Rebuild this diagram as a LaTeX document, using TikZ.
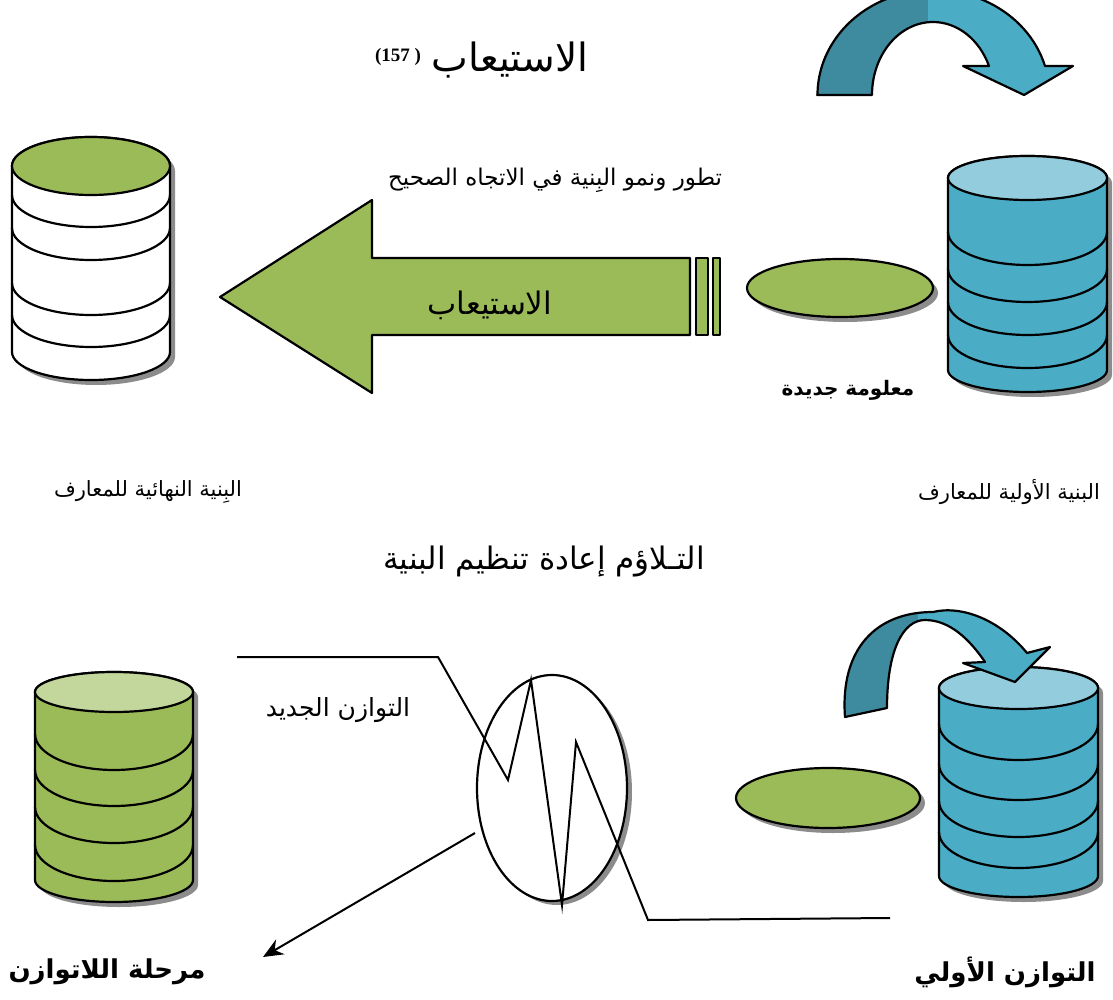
\documentclass[tikz,border=0pt]{standalone}
\usepackage{fontspec}
\setmainfont{Liberation Serif}
\newfontfamily\arabicfont[Script=Arabic]{DejaVu Sans}
\TeXXeTstate=1
\usetikzlibrary{arrows.meta}
\definecolor{cgreen}{HTML}{9BBB59}
\definecolor{clgreen}{HTML}{C3D69B}
\definecolor{cblue}{HTML}{4BACC6}
\definecolor{clblue}{HTML}{93CDDD}
\definecolor{cteal}{HTML}{3E8A9F}
\definecolor{cshadow}{HTML}{8C8C8C}
\tikzset{
  outline/.style={draw=black, line width=2.2pt, line join=round},
  thinline/.style={draw=black, line width=2pt},
  shadowfill/.style={fill=cshadow},
  artext/.style={inner sep=0pt, font=\arabicfont},
}
% body of a cylinder: cx, top y, rx, top ry, bottom y, bottom ry, fill
\newcommand{\cylbody}[7]{%
  \fill[shadowfill, shift={(5,5)}] (#1-#3,#2) -- (#1-#3,#5)
     arc[start angle=180, end angle=0, x radius=#3, y radius=#6]
     -- (#1+#3,#2) arc[start angle=0, end angle=-180, x radius=#3, y radius=#4] -- cycle;
  \filldraw[fill=#7, outline] (#1-#3,#2) -- (#1-#3,#5)
     arc[start angle=180, end angle=0, x radius=#3, y radius=#6]
     -- (#1+#3,#2) arc[start angle=0, end angle=-180, x radius=#3, y radius=#4] -- cycle;
}
\newcommand{\cyltop}[5]{\filldraw[fill=#5, outline] (#1,#2) ellipse[x radius=#3, y radius=#4];}
\newcommand{\cylband}[4]{\draw[outline] (#1+#3,#2) arc[start angle=0, end angle=180, x radius=#3, y radius=#4];}
\begin{document}
\begin{tikzpicture}[x=1pt, y=-1pt]
\clip (0,0) rectangle (1113,1000);
\fill[white] (0,0) rectangle (1113,1000);

% ---------- titles ----------
\node[artext, font=\arabicfont\fontsize{39}{44}\selectfont] (title1) at (510,60) {\beginR الاستيعاب\endR};
\node[inner sep=0pt, font=\bfseries\fontsize{19}{22}\selectfont] (sup) at (398,57) {(157 )};
\node[artext, font=\arabicfont\fontsize{23}{28}\selectfont] (growth) at (555,180) {\beginR تطور ونمو البِنية في الاتجاه الصحيح\endR};

% ---------- top curved arrow ----------
\begin{scope}
\path[clip] (817,95) -- (872,95) arc[start angle=180, end angle=336.6, x radius=61, y radius=73]
   -- (963,66) -- (1024,95) -- (1073,66) -- (1045,66)
   arc[start angle=344, end angle=180, x radius=116, y radius=105] -- cycle;
\fill[cblue] (800,-20) rectangle (1100,120);
\fill[cteal] (800,-20) rectangle (928,120);
\end{scope}
\draw[outline] (817,95) -- (872,95) arc[start angle=180, end angle=336.6, x radius=61, y radius=73]
   -- (963,66) -- (1024,95) -- (1073,66) -- (1045,66)
   arc[start angle=344, end angle=180, x radius=116, y radius=105] -- cycle;

% ---------- top-left cylinder (final structure) ----------
\cylbody{91}{166}{79}{29}{352}{28}{white}
\cylband{91}{195}{79}{32}
\cylband{91}{228}{79}{32}
\cylband{91}{283}{79}{32}
\cylband{91}{315}{79}{32}
\cyltop{91}{166}{79}{29}{cgreen}

% ---------- big green arrow ----------
\filldraw[fill=cgreen, outline] (220,297) -- (372,200) -- (372,258) -- (690,258)
   -- (690,335) -- (372,335) -- (372,393) -- cycle;
\filldraw[fill=cgreen, outline] (696,258) rectangle (708,335);
\filldraw[fill=cgreen, outline] (713,258) rectangle (720,335);
\node[artext, font=\arabicfont\fontsize{31}{36}\selectfont] (assim) at (490,305) {\beginR الاستيعاب\endR};

% ---------- new information ellipse (top) ----------
\fill[shadowfill] (845,293) ellipse[x radius=93, y radius=29];
\filldraw[fill=cgreen, outline] (840,288) ellipse[x radius=93, y radius=29];
\node[artext, font=\arabicfont\bfseries\fontsize{20}{24}\selectfont] (newinfo) at (848,390) {\beginR معلومة جديدة\endR};

% ---------- top-right cylinder (initial structure) ----------
\cylbody{1027.5}{178}{79.5}{22}{370}{22}{cblue}
\cylband{1027.5}{232}{79.5}{33}
\cylband{1027.5}{269}{79.5}{33}
\cylband{1027.5}{302}{79.5}{33}
\cylband{1027.5}{335}{79.5}{33}
\cyltop{1027.5}{178}{79.5}{22}{clblue}

% ---------- structure labels ----------
\node[artext, font=\arabicfont\fontsize{21}{26}\selectfont] (finallbl) at (148,492) {\beginR البِنية النهائية للمعارف\endR};
\node[artext, font=\arabicfont\fontsize{21}{26}\selectfont] (initlbl) at (1009,492) {\beginR البنية الأولية للمعارف\endR};
\node[artext, font=\arabicfont\fontsize{31}{36}\selectfont] (title2) at (544,562) {\beginR التـلاؤم إعادة تنظيم البنية\endR};

% ---------- bottom-left cylinder ----------
\cylbody{114}{692}{79}{20}{880}{22}{cgreen}
\cylband{114}{734}{79}{36}
\cylband{114}{770}{79}{36}
\cylband{114}{807}{79}{36}
\cylband{114}{845}{79}{36}
\cyltop{114}{692}{79}{20}{clgreen}

% ---------- bottom-right cylinder ----------
\cylbody{1018.5}{688}{79.5}{21}{876}{21}{cblue}
\cylband{1018.5}{724}{79.5}{36}
\cylband{1018.5}{764}{79.5}{36}
\cylband{1018.5}{801}{79.5}{36}
\cylband{1018.5}{832}{79.5}{36}
\cyltop{1018.5}{688}{79.5}{21}{clblue}

% ---------- bottom curved arrow ----------
\begin{scope}
\path[clip] (845,717) -- (887,708) .. controls (887,650) and (903,620) .. (925,620)
   .. controls (950,620) and (970,640) .. (985,662) -- (963,663) -- (1015,682) -- (1050,647) -- (1027,653)
   .. controls (1000,620) and (962,605) .. (933,612)
   .. controls (875,612) and (840,650) .. (845,717) -- cycle;
\fill[cblue] (830,590) rectangle (1070,730);
\fill[cteal] (830,590) rectangle (918,730);
\end{scope}
\draw[outline] (845,717) -- (887,708) .. controls (887,650) and (903,620) .. (925,620)
   .. controls (950,620) and (970,640) .. (985,662) -- (963,663) -- (1015,682) -- (1050,647) -- (1027,653)
   .. controls (1000,620) and (962,605) .. (933,612)
   .. controls (875,612) and (840,650) .. (845,717) -- cycle;

% ---------- new information ellipse (bottom) ----------
\fill[shadowfill] (833,803) ellipse[x radius=92, y radius=30];
\filldraw[fill=cgreen, outline] (828,798) ellipse[x radius=92, y radius=30];

% ---------- disequilibrium oval and zigzag ----------
\fill[shadowfill] (557,792) ellipse[x radius=75, y radius=113];
\filldraw[fill=white, outline] (552,788) ellipse[x radius=75, y radius=113];
\coordinate (z1) at (237,657);
\coordinate (z2) at (438,657);
\coordinate (z3) at (508,780);
\coordinate (z4) at (531,680);
\coordinate (z5) at (562,905);
\coordinate (z6) at (576,742);
\coordinate (z7) at (648,920);
\coordinate (z8) at (890,918);
\draw[thinline, line join=miter] (z1) -- (z2) -- (z3) -- (z4) -- (z5) -- (z6) -- (z7) -- (z8);

\node[artext, font=\arabicfont\fontsize{25}{30}\selectfont] (newbal) at (338,710) {\beginR التوازن الجديد\endR};
\node[artext, font=\arabicfont\bfseries\fontsize{26}{30}\selectfont] (diseq) at (107,972) {\beginR مرحلة اللاتوازن\endR};
\node[artext, font=\arabicfont\bfseries\fontsize{26}{30}\selectfont] (initbal) at (1005,972) {\beginR التوازن الأولي\endR};

\coordinate (arrstart) at (475,833);
\coordinate (arrend) at (263,957);
\draw[thinline, -{Stealth[length=20pt, width=17pt]}] (arrstart) -- (arrend);
\end{tikzpicture}
\end{document}
